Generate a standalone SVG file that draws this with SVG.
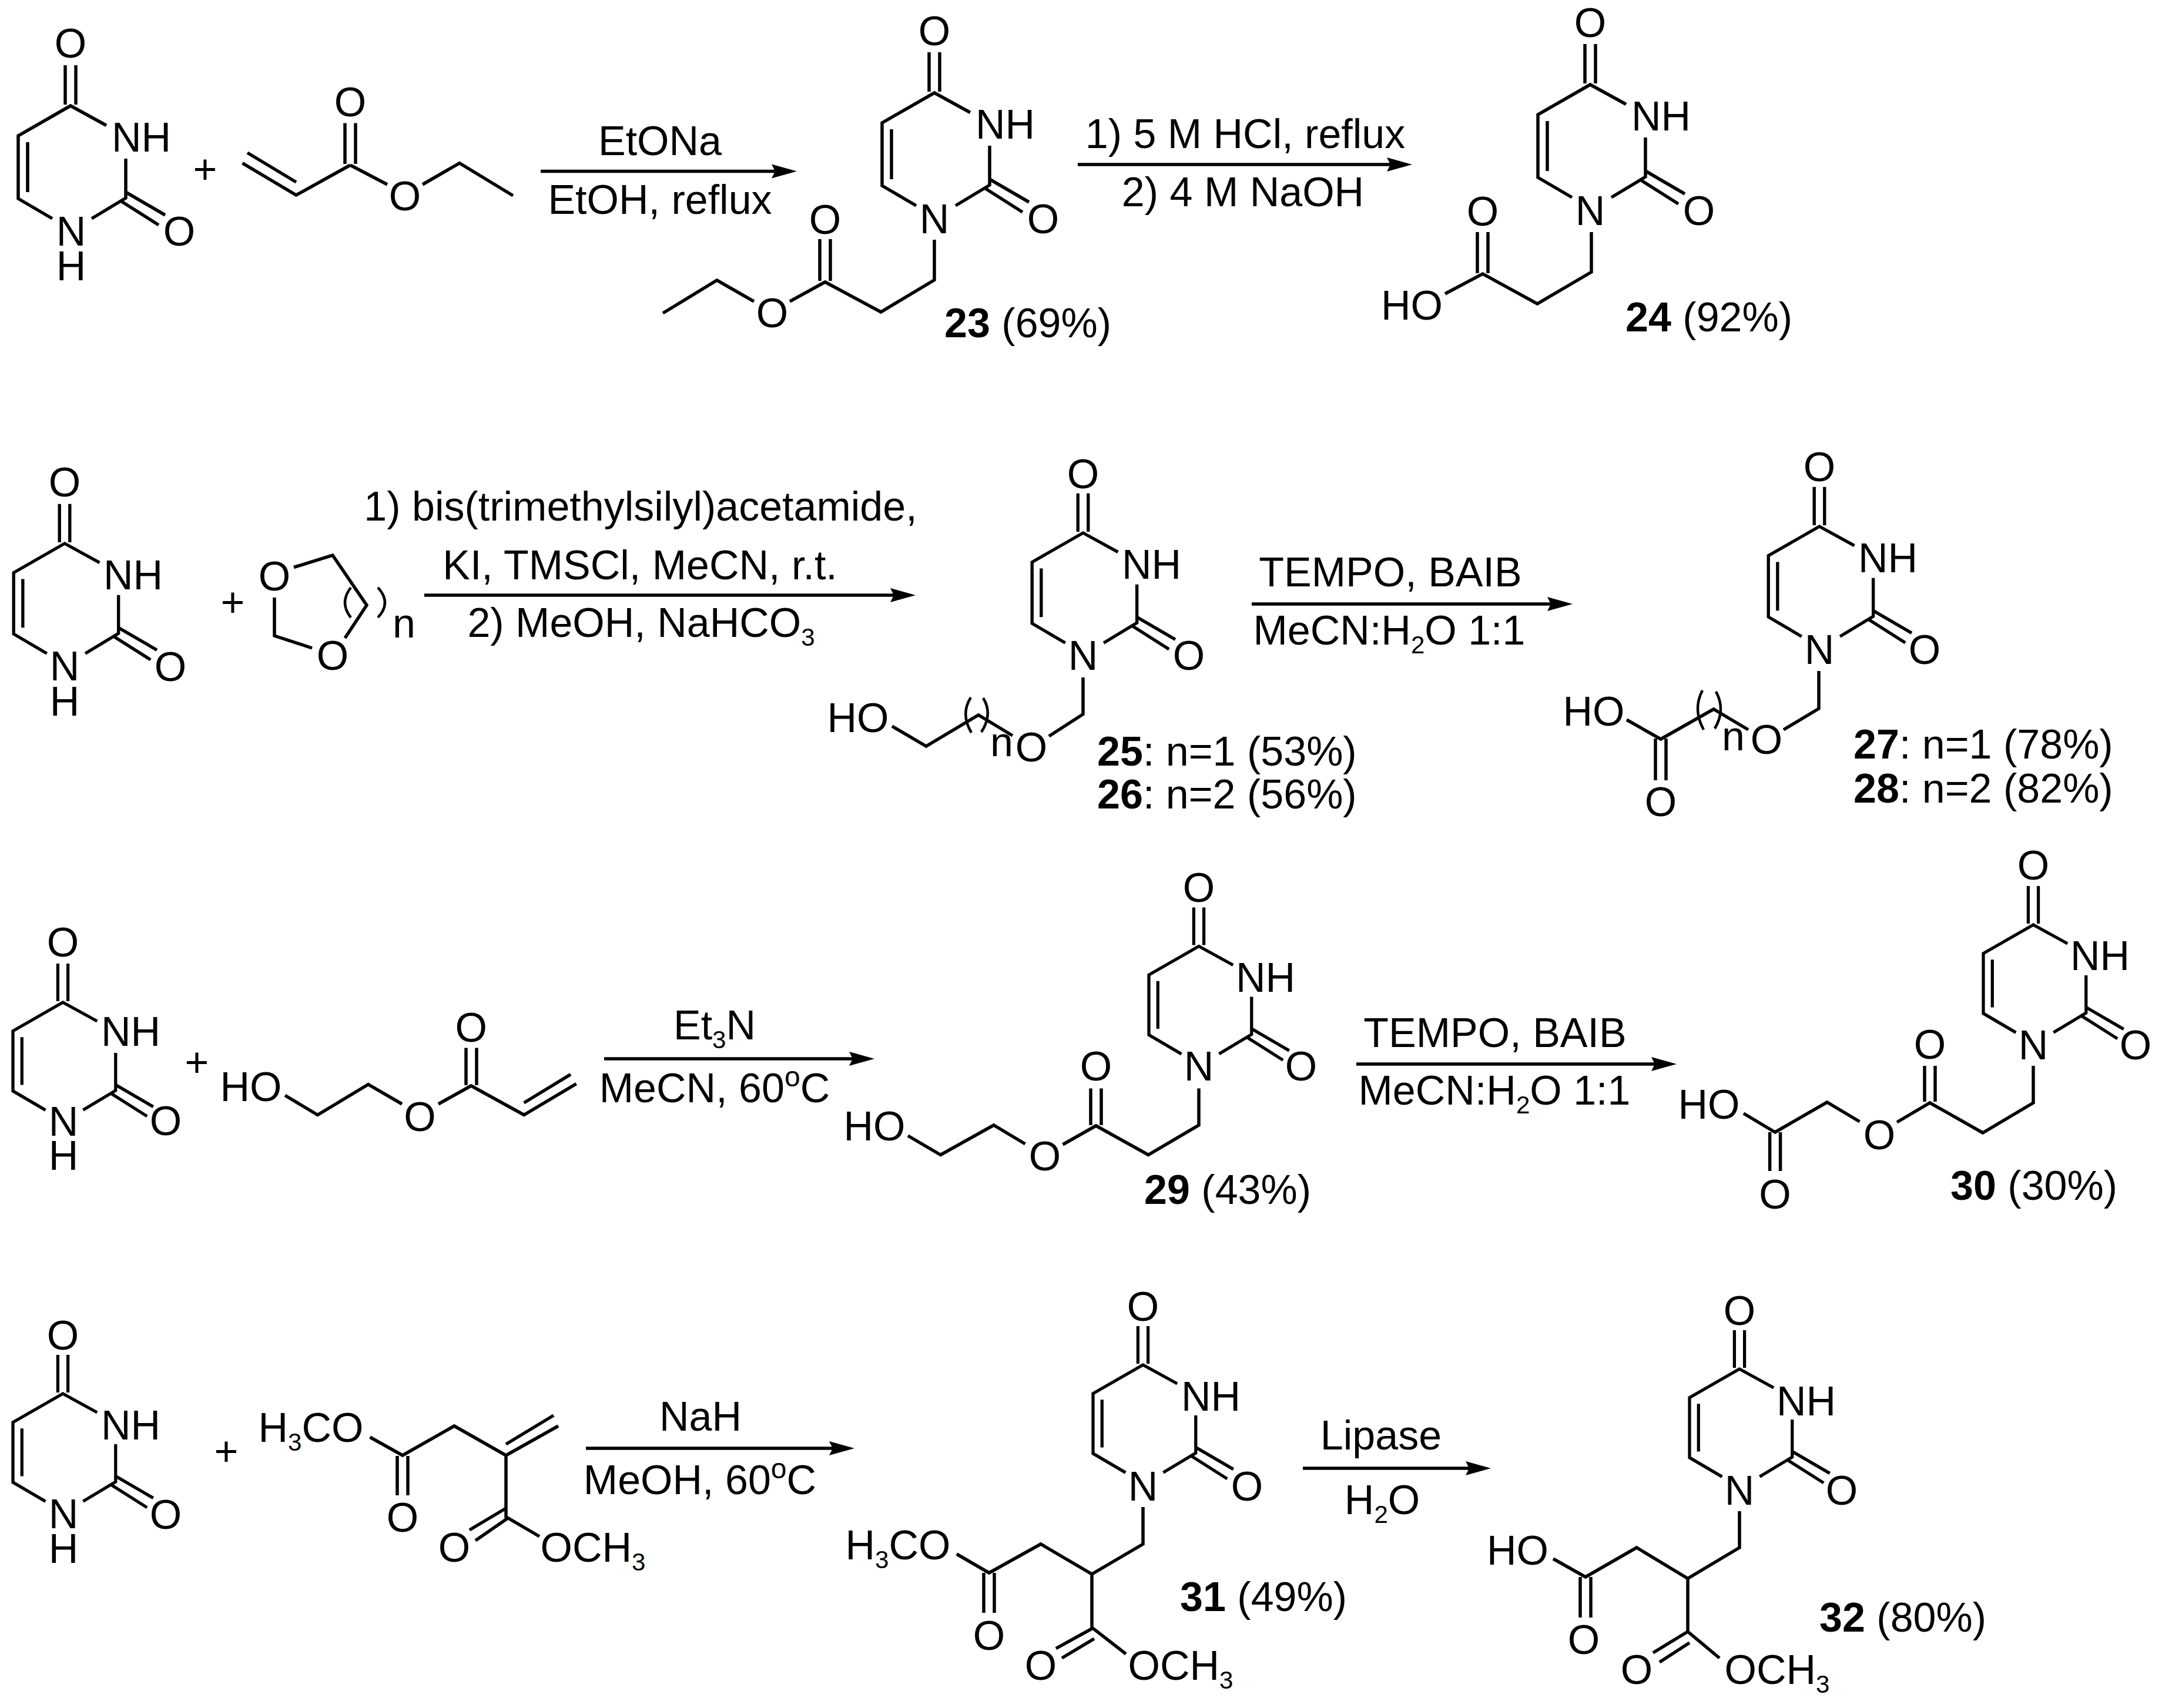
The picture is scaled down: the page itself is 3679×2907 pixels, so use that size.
<svg xmlns="http://www.w3.org/2000/svg" width="3679" height="2907" viewBox="0 0 3679 2907">
<style>
.b,.r path{fill:none;stroke:#000;stroke-width:5.5;stroke-linejoin:miter}
.p{fill:none;stroke:#000;stroke-width:4.5}
.a{stroke:#000;stroke-width:5.5;fill:none;marker-end:url(#head)}
text{font-family:"Liberation Sans",Arial,sans-serif;font-size:70px;fill:#000}
.m{text-anchor:middle}
.bd{font-weight:700}
.s{font-size:42px}
.u{font-size:48px}
</style>
<defs>
<marker id="head" markerUnits="userSpaceOnUse" markerWidth="44" markerHeight="27" viewBox="0 0 44 27" refX="33" refY="13.5" orient="auto"><path d="M0 1.5L43 13.5L0 25.5L6 13.5z" fill="#000"/></marker>
<g id="ring" class="r"><path d="M61 33.5L0 0L-89 51V158L-31 192M36 192L94 157V90M-73 62V147M-9 -69V-2M9 -69V-2M94 147L161 186M87 163L150 203"/></g>
</defs>
<rect width="3679" height="2907" fill="#fff"/>

<g id="connectors">
<line class="a" x1="920" y1="291.5" x2="1346" y2="291.5"/>
<line class="a" x1="1834" y1="280" x2="2393" y2="280"/>
<line class="a" x1="722" y1="1013" x2="1548" y2="1013"/>
<line class="a" x1="2130" y1="1028" x2="2666" y2="1028"/>
<line class="a" x1="1028" y1="1802" x2="1478" y2="1802"/>
<line class="a" x1="2308" y1="1811" x2="2843" y2="1811"/>
<line class="a" x1="997" y1="2465" x2="1444" y2="2465"/>
<line class="a" x1="2217" y1="2499" x2="2527" y2="2499"/>
</g>

<g id="conditions">
<g id="cond-1"><text class="m" x="1123" y="264">EtONa</text><text class="m" x="1123" y="364">EtOH, reflux</text></g>
<g id="cond-2"><text class="m" x="2119" y="252">1) 5 M HCl, reflux</text><text class="m" x="2115" y="351">2) 4 M NaOH</text></g>
<g id="cond-3"><text class="m" x="1090" y="886">1) bis(trimethylsilyl)acetamide,</text><text class="m" x="1089" y="986">KI, TMSCl, MeCN, r.t.</text><text class="m" x="1091" y="1084">2) MeOH, NaHCO<tspan class="s" dy="15">3</tspan></text></g>
<g id="cond-4"><text class="m" x="2366" y="998">TEMPO, BAIB</text><text class="m" x="2364" y="1097">MeCN:H<tspan class="s" dy="15">2</tspan><tspan dy="-15">O 1:1</tspan></text></g>
<g id="cond-5"><text class="m" x="1216" y="1769">Et<tspan class="s" dy="15">3</tspan><tspan dy="-15">N</tspan></text><text class="m" x="1216" y="1876">MeCN, 60<tspan class="u" dy="-27">o</tspan><tspan dy="27">C</tspan></text></g>
<g id="cond-6"><text class="m" x="2544" y="1782">TEMPO, BAIB</text><text class="m" x="2543" y="1880">MeCN:H<tspan class="s" dy="15">2</tspan><tspan dy="-15">O 1:1</tspan></text></g>
<g id="cond-7"><text class="m" x="1192" y="2435">NaH</text><text class="m" x="1191" y="2543">MeOH, 60<tspan class="u" dy="-27">o</tspan><tspan dy="27">C</tspan></text></g>
<g id="cond-8"><text class="m" x="2350" y="2467">Lipase</text><text class="m" x="2352" y="2577">H<tspan class="s" dy="15">2</tspan><tspan dy="-15">O</tspan></text></g>
</g>

<g id="plus-signs">
<text class="m" x="349" y="312">+</text>
<text class="m" x="396" y="1049">+</text>
<text class="m" x="335" y="1832">+</text>
<text class="m" x="385" y="2494">+</text>
</g>

<g id="uracil-1"><g transform="translate(120,180)"><use href="#ring"/>
<text class="m" y="-82">O</text><text x="70" y="78">NH</text><text class="m" x="1" y="238">N<tspan x="1" dy="59">H</tspan></text><text class="m" x="185" y="238">O</text></g></g>

<g id="ethyl-acrylate">
<path class="b" d="M412.5 277.6L504 332L596 281M421 260L504 310M587 209.6V279M605 209.6V279M596 281L659 314M719 314L782 277.6L873 333"/>
<text class="m" x="596" y="198">O</text><text class="m" x="689" y="358">O</text>
</g>

<g id="m23"><g transform="translate(1590,158)"><use href="#ring"/>
<text class="m" y="-81">O</text><text x="70" y="78">NH</text><text class="m" y="239">N</text><text class="m" x="185" y="239">O</text></g>
<path class="b" d="M1590 408V476.5L1499 531L1404 480L1344 513M1283 513L1220 477L1128 533M1395 407V478M1413 407V478"/>
<text class="m" x="1404" y="398">O</text><text class="m" x="1314" y="557">O</text>
<text x="1607" y="574"><tspan class="bd">23</tspan> (69%)</text></g>

<g id="m24"><g transform="translate(2706,144)"><use href="#ring"/>
<text class="m" y="-81">O</text><text x="70" y="78">NH</text><text class="m" y="239">N</text><text class="m" x="185" y="239">O</text></g>
<path class="b" d="M2708 395V463L2616 517L2523 466L2459 500M2514 395V465M2532 395V465"/>
<text class="m" x="2523" y="384">O</text><text x="2350" y="544">HO</text>
<text x="2766" y="563.5"><tspan class="bd">24</tspan> (92%)</text></g>

<g id="uracil-2"><g transform="translate(110,925)"><use href="#ring" transform="scale(.975)"/>
<text class="m" y="-80">O</text><text x="66" y="78">NH</text><text class="m" y="233">N<tspan x="0" dy="60">H</tspan></text><text class="m" x="180" y="234">O</text></g></g>

<g id="dioxolane">
<path class="b" d="M500 965.5L566 945L624 1030L587 1086M531 1103L467 1082V1017"/>
<path class="p" d="M597 1000Q577 1026 597 1051M643 1000Q667 1026 643 1051"/>
<text class="m" x="467" y="1005">O</text><text class="m" x="566" y="1140">O</text><text x="668" y="1085">n</text>
</g>

<g id="m25"><g transform="translate(1843,907)"><use href="#ring" transform="scale(.975)"/>
<text class="m" y="-76">O</text><text x="66" y="78">NH</text><text class="m" y="233">N</text><text class="m" x="180" y="233">O</text></g>
<path class="b" d="M1843 1153V1215.5L1785 1253M1723 1252L1665 1217L1576 1270L1518 1236"/>
<path class="p" d="M1652 1187Q1634 1215 1653 1247M1673 1188Q1690 1215 1670 1246"/>
<text x="1407.5" y="1246">HO</text><text x="1685" y="1287">n</text><text class="m" x="1755" y="1296">O</text>
<text x="1867" y="1302.6"><tspan class="bd">25</tspan>: n=1 (53%)<tspan x="1867" dy="73.4"><tspan class="bd">26</tspan>: n=2 (56%)</tspan></text></g>

<g id="m27"><g transform="translate(3096,896)"><use href="#ring" transform="scale(.975)"/>
<text class="m" y="-77">O</text><text x="66" y="78">NH</text><text class="m" y="234">N</text><text class="m" x="179" y="234">O</text></g>
<path class="b" d="M3095 1142V1206L3035 1242M2975 1242L2916 1207L2826 1258L2768 1225M2817 1257V1328M2835 1257V1328"/>
<path class="p" d="M2897 1175Q2880 1207 2899 1242M2920 1177Q2937 1208 2918 1240"/>
<text x="2659.5" y="1235">HO</text><text x="2930" y="1277">n</text><text class="m" x="3006" y="1283">O</text><text class="m" x="2826" y="1389">O</text>
<text x="3154" y="1291"><tspan class="bd">27</tspan>: n=1 (78%)<tspan x="3154" dy="75"><tspan class="bd">28</tspan>: n=2 (82%)</tspan></text></g>

<g id="uracil-3"><g transform="translate(107,1706)"><use href="#ring" transform="scale(.955)"/>
<text class="m" y="-78">O</text><text x="65" y="74">NH</text><text class="m" x="1" y="227">N<tspan x="1" dy="58">H</tspan></text><text class="m" x="175" y="226">O</text></g></g>

<g id="hydroxyethyl-acrylate">
<path class="b" d="M485 1864.4L540.5 1897.5L626.6 1845.6L684 1879M746 1879L801.7 1848L891.6 1897.5L980.6 1844.7M891.6 1877L971 1828.6M793 1783.6V1847M811 1783.6V1847"/>
<text x="374.5" y="1873.6">HO</text><text class="m" x="714.6" y="1925">O</text><text class="m" x="801.7" y="1773">O</text>
</g>

<g id="m29"><g transform="translate(2040,1610.5)"><use href="#ring" transform="scale(.955)"/>
<text class="m" y="-76">O</text><text x="63" y="77">NH</text><text class="m" y="228.5">N</text><text class="m" x="174" y="228.5">O</text></g>
<path class="b" d="M2040 1852.5V1915L1954 1965.5L1865 1916L1808.5 1948M1744.5 1947L1691 1915L1600.6 1965.5L1545 1933M1856 1852.5V1915M1874 1852.5V1915"/>
<text class="m" x="1865" y="1839">O</text><text class="m" x="1778" y="1992">O</text><text x="1435.5" y="1941">HO</text>
<text x="1947" y="2049"><tspan class="bd">29</tspan> (43%)</text></g>

<g id="m30"><g transform="translate(3460,1574)"><use href="#ring" transform="scale(.955)"/>
<text class="m" y="-77">O</text><text x="63" y="77">NH</text><text class="m" y="228.5">N</text><text class="m" x="174" y="228.5">O</text></g>
<path class="b" d="M3460 1814V1877L3374 1928L3284 1877L3228 1910M3164.5 1909L3109 1876L3020.6 1927L2967 1895M3275 1814V1875M3293 1814V1875M3011.6 1927V1993M3029.6 1927V1993"/>
<text class="m" x="3284" y="1802">O</text><text class="m" x="3198" y="1956">O</text><text x="2855.5" y="1903.5">HO</text><text class="m" x="3020.6" y="2057">O</text>
<text x="3319" y="2042"><tspan class="bd">30</tspan> (30%)</text></g>

<g id="uracil-4"><g transform="translate(107,2372)"><use href="#ring" transform="scale(.955)"/>
<text class="m" y="-75">O</text><text x="65" y="78">NH</text><text class="m" x="1" y="229">N<tspan x="1" dy="59">H</tspan></text><text class="m" x="175" y="230">O</text></g></g>

<g id="dimethyl-itaconate">
<path class="b" d="M629.5 2446L685 2477L773 2427L861 2477L950 2427M861 2458L942 2409M861 2477V2581.6L918 2615M676 2478V2545M694 2478V2545M861 2567L799 2604M864 2584L809 2622"/>
<text x="439.5" y="2453.5">H<tspan class="s" dy="15">3</tspan><tspan dy="-15">CO</tspan></text>
<text class="m" x="685" y="2607">O</text><text class="m" x="773" y="2658">O</text>
<text x="919.5" y="2658">OCH<tspan class="s" dy="15">3</tspan></text>
</g>

<g id="m31"><g transform="translate(1945,2323)"><use href="#ring" transform="scale(.955)"/>
<text class="m" y="-75">O</text><text x="65" y="77.6">NH</text><text class="m" y="231">N</text><text class="m" x="177" y="231">O</text></g>
<path class="b" d="M1945 2565V2628L1858 2679L1771 2628L1683 2677L1628 2645M1858 2679V2770L1916 2815M1674 2677V2745M1692 2677V2745M1858 2772L1797 2805.6M1862 2789L1807 2822"/>
<text x="1438.5" y="2654">H<tspan class="s" dy="15">3</tspan><tspan dy="-15">CO</tspan></text>
<text class="m" x="1683" y="2808">O</text><text class="m" x="1771" y="2859">O</text>
<text x="1919.5" y="2859">OCH<tspan class="s" dy="15">3</tspan></text>
<text x="2008" y="2742"><tspan class="bd">31</tspan> (49%)</text></g>

<g id="m32"><g transform="translate(2960,2330)"><use href="#ring" transform="scale(.955)"/>
<text class="m" y="-75">O</text><text x="63" y="78.7">NH</text><text class="m" y="231">N</text><text class="m" x="174" y="231">O</text></g>
<path class="b" d="M2960 2572V2634L2872 2686.5L2785 2634L2698 2684L2643 2653M2872 2686.5V2777L2926 2822M2689 2684V2753M2707 2684V2753M2872 2777L2813 2813M2875 2796L2824 2829"/>
<text x="2530" y="2662.6">HO</text>
<text class="m" x="2695" y="2815">O</text><text class="m" x="2785" y="2866">O</text>
<text x="2934.5" y="2866">OCH<tspan class="s" dy="15">3</tspan></text>
<text x="3096" y="2777"><tspan class="bd">32</tspan> (80%)</text></g>
</svg>
